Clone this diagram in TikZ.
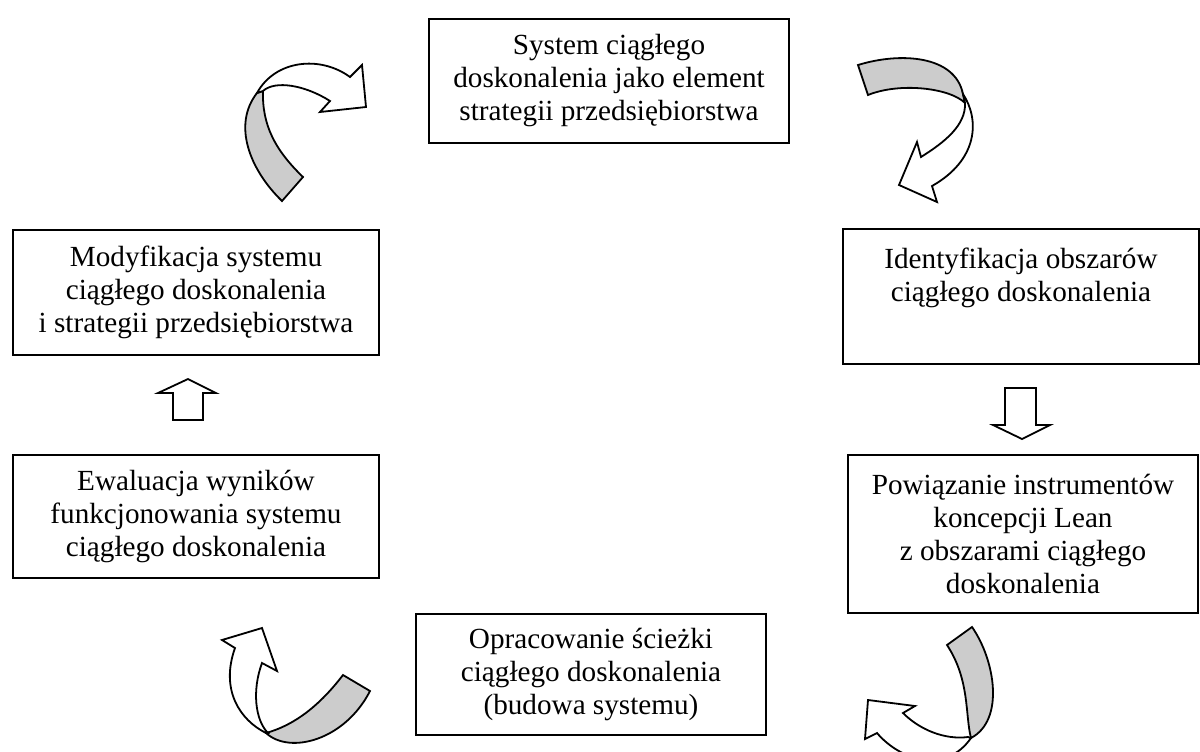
\documentclass[tikz,border=0pt]{standalone}
\usepackage{fontspec}
\setmainfont{Liberation Serif}
\begin{document}
\begin{tikzpicture}[x=0.5pt,y=-0.5pt,
  box/.style={draw, line width=1pt, inner sep=0pt, align=center, font=\fontsize{14.6}{16.5}\selectfont},
  shp/.style={draw, line width=0.9pt, line join=miter},
  band/.style={shp, fill=black!20},
  white/.style={shp, fill=white}]
\useasboundingbox (0,0) rectangle (1200,751);
\clip (0,0) rectangle (1200,751);

\node[box, minimum width=180pt, minimum height=62pt] (sys) at (609,81)
  {System ciągłego\\doskonalenia jako element\\strategii przedsiębiorstwa};
\node[box, minimum width=178pt, minimum height=67.5pt] (ident) at (1021,296.5)
  {Identyfikacja obszarów\\ciągłego doskonalenia\\\strut};
\node[box, minimum width=175pt, minimum height=79pt] (pow) at (1023,534)
  {Powiązanie instrumentów\\koncepcji Lean\\z obszarami ciągłego\\doskonalenia};
\node[box, minimum width=175pt, minimum height=60.5pt] (opr) at (591,674.5)
  {Opracowanie ścieżki\\ciągłego doskonalenia\\(budowa systemu)};
\node[box, minimum width=183pt, minimum height=61.5pt] (ewa) at (196,516.5)
  {Ewaluacja wyników\\funkcjonowania systemu\\ciągłego doskonalenia};
\node[box, minimum width=183pt, minimum height=62.5pt] (mod) at (196,292.5)
  {Modyfikacja systemu\\ciągłego doskonalenia\\i strategii przedsiębiorstwa};

% straight block arrows
\draw[white] (188,379) -- (216,393) -- (203,393) -- (203,420) -- (173,420) -- (173,393) -- (158,393) -- cycle;
\draw[white] (1022,439) -- (1050,425) -- (1036,425) -- (1036,388) -- (1005,388) -- (1005,425) -- (993,425) -- cycle;

% top-left curved arrow
\draw[band] (282,201) .. controls (250,170) and (232,125) .. (257,93) -- (263,91) .. controls (262,125) and (275,150) .. (303,177) -- cycle;
\draw[white] (257,93) .. controls (275,60) and (320,55) .. (350,77) -- (362,65) -- (366,107) -- (320,112) -- (330,101) .. controls (305,85) and (275,80) .. (263,91) -- cycle;

% top-right curved arrow
\draw[band] (858,65) .. controls (900,52) and (955,55) .. (963,94) -- (965,103) .. controls (950,88) and (900,82) .. (868,95) -- cycle;
\draw[white] (963,94) .. controls (980,120) and (978,160) .. (932,186) -- (937,202) -- (899,185) -- (917,142) -- (921,157) .. controls (945,142) and (966,125) .. (965,103) -- cycle;

% bottom-right curved arrow
\draw[band] (947,645) -- (972,627) .. controls (995,660) and (1005,720) .. (971,738) .. controls (965,715) and (970,680) .. (947,645) -- cycle;
\draw[white] (968,737) .. controls (945,740) and (920,730) .. (903,713) -- (915,706) -- (868,700) -- (865,739) -- (877,733) .. controls (900,760) and (945,775) .. (971,738) -- cycle;

% bottom-left curved arrow
\draw[band] (343,675) .. controls (320,705) and (295,725) .. (266,733) .. controls (290,755) and (345,740) .. (370,691) -- cycle;
\draw[white] (266,733) .. controls (240,720) and (220,690) .. (235,648) -- (222,640) -- (262,628) -- (277,671) -- (262,663) .. controls (252,690) and (255,720) .. (268,733) -- cycle;
\end{tikzpicture}
\end{document}
